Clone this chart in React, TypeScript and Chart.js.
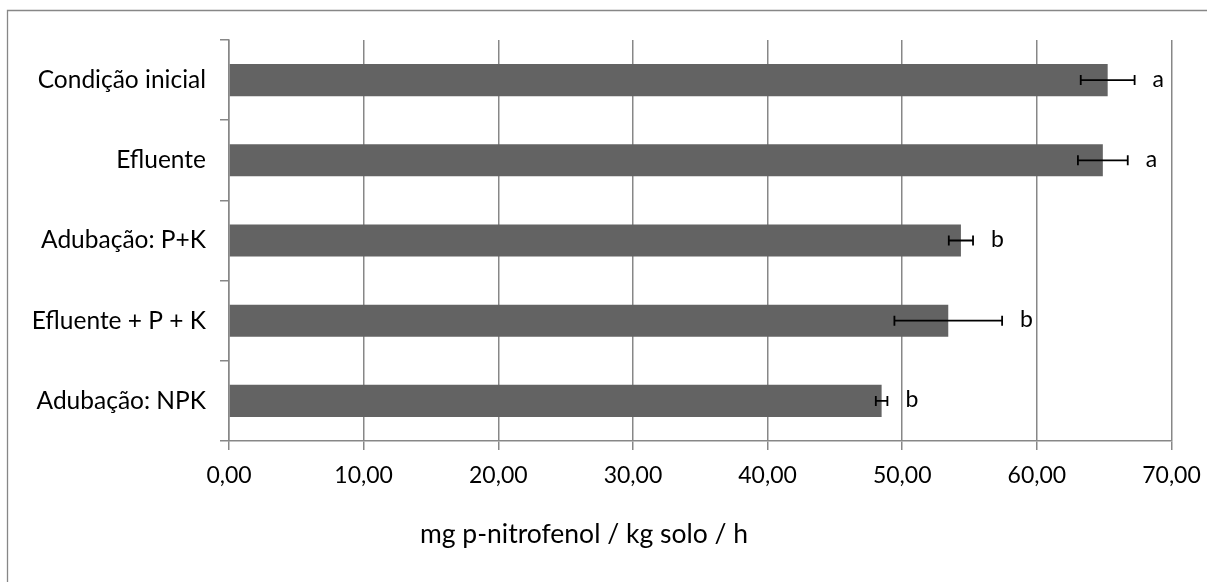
import React, { useEffect, useRef } from "react";
import { Chart, registerables } from "chart.js";

Chart.register(...registerables);

const categories = [
  "Condição inicial",
  "Efluente",
  "Adubação: P+K",
  "Efluente + P + K",
  "Adubação: NPK",
];
const means = [65.26, 64.9, 54.36, 53.42, 48.47];
const errors = [2.0, 1.85, 0.9, 4.0, 0.43];
const letters = ["a", "a", "b", "b", "b"];
const axisTitle = "mg p-nitrofenol / kg solo / h";
const xMin = 0;
const xMax = 70;
const xStep = 10;

const FONT = "Lato, 'Noto Sans', sans-serif";
const GRID = "#878787";
const BAR = "#636363";

export default function App() {
  const ref = useRef<HTMLCanvasElement | null>(null);

  useEffect(() => {
    if (!ref.current) return;

    const decor = {
      id: "decor",
      beforeDraw(chart: any) {
        const ctx = chart.ctx;
        ctx.save();
        ctx.fillStyle = "#ffffff";
        ctx.fillRect(0, 0, chart.width, chart.height);
        ctx.strokeStyle = GRID;
        ctx.lineWidth = 1.3;
        ctx.beginPath();
        ctx.moveTo(7.5, chart.height);
        ctx.lineTo(7.5, 10.5);
        ctx.lineTo(chart.width, 10.5);
        ctx.stroke();
        ctx.restore();
      },
      afterDatasetsDraw(chart: any) {
        const ctx = chart.ctx;
        const xs = chart.scales.x;
        const meta = chart.getDatasetMeta(0);
        ctx.save();
        ctx.strokeStyle = "#000000";
        ctx.lineWidth = 1.8;
        meta.data.forEach((bar: any, i: number) => {
          const y = bar.y;
          const x1 = xs.getPixelForValue(means[i] - errors[i]);
          const x2 = xs.getPixelForValue(means[i] + errors[i]);
          ctx.beginPath();
          ctx.moveTo(x1, y);
          ctx.lineTo(x2, y);
          ctx.moveTo(x1, y - 5);
          ctx.lineTo(x1, y + 5);
          ctx.moveTo(x2, y - 5);
          ctx.lineTo(x2, y + 5);
          ctx.stroke();
          ctx.fillStyle = "#000000";
          ctx.font = `23px ${FONT}`;
          ctx.textAlign = "left";
          ctx.textBaseline = "middle";
          ctx.fillText(letters[i], x2 + 18, y - 1);
        });
        ctx.fillStyle = "#000000";
        ctx.font = `26.5px ${FONT}`;
        ctx.textAlign = "center";
        ctx.textBaseline = "alphabetic";
        ctx.fillText(axisTitle, 584, 543);
        ctx.restore();
      },
    };

    const chart = new Chart(ref.current, {
      type: "bar",
      data: {
        labels: categories,
        datasets: [
          {
            data: means,
            backgroundColor: BAR,
            borderWidth: 0,
            barPercentage: 0.4,
            categoryPercentage: 1.0,
          },
        ],
      },
      plugins: [decor],
      options: {
        indexAxis: "y",
        animation: false,
        responsive: false,
        maintainAspectRatio: false,
        layout: { padding: { top: 40, right: 35.5, left: 0, bottom: 0 } },
        plugins: {
          legend: { display: false },
          tooltip: { enabled: false },
          title: { display: false },
        },
        scales: {
          x: {
            type: "linear",
            min: xMin,
            max: xMax,
            afterFit(scale: any) {
              scale.height = 141;
              scale.paddingLeft = 0;
              scale.paddingRight = 0;
            },
            ticks: {
              stepSize: xStep,
              color: "#000000",
              font: { family: FONT, size: 23 },
              padding: 12,
              maxRotation: 0,
              callback: (v: any) => Number(v).toFixed(2).replace(".", ","),
            },
            grid: {
              color: GRID,
              lineWidth: 1.5,
              tickLength: 9,
              drawTicks: true,
            },
            border: { color: GRID, width: 1.5 },
          },
          y: {
            type: "category",
            afterFit(scale: any) {
              scale.width = 229;
              scale.paddingTop = 0;
              scale.paddingBottom = 0;
            },
            ticks: {
              color: "#000000",
              font: { family: FONT, size: 24.5 },
              padding: 14,
            },
            grid: {
              color: GRID,
              lineWidth: 1.5,
              drawOnChartArea: false,
              tickLength: 9,
              offset: true,
            },
            border: { color: GRID, width: 1.5 },
          },
        },
      },
    });

    return () => chart.destroy();
  }, []);

  return (
    <div style={{ position: "fixed", left: 0, top: 0, width: 1207, height: 582, background: "#fff" }}>
      <canvas ref={ref} width={1207} height={582} style={{ width: 1207, height: 582, display: "block" }} />
    </div>
  );
}
